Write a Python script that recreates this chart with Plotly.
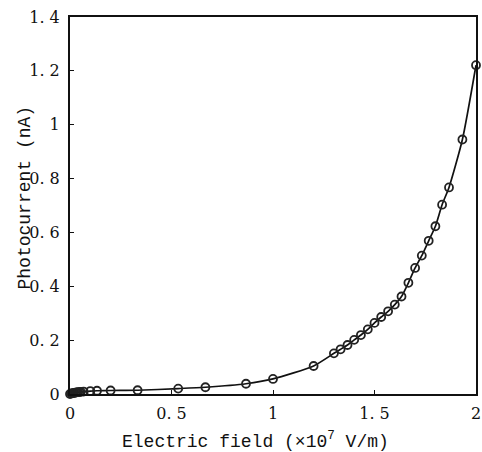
import plotly.graph_objects as go

field = [0.0, 0.007, 0.013, 0.02, 0.027, 0.033, 0.04, 0.047, 0.053, 0.067,
         0.1, 0.133, 0.2, 0.333, 0.533, 0.667, 0.867, 1.0,
         1.2, 1.3, 1.333, 1.367, 1.4, 1.433, 1.467, 1.5, 1.533, 1.567,
         1.6, 1.633, 1.667, 1.7, 1.733, 1.767, 1.8, 1.833, 1.867, 1.933, 2.0]
current = [0.0, 0.002, 0.003, 0.004, 0.005, 0.006, 0.007, 0.007, 0.008, 0.009,
           0.011, 0.012, 0.013, 0.014, 0.02, 0.025, 0.038, 0.056,
           0.104, 0.151, 0.166, 0.182, 0.201, 0.219, 0.24, 0.264, 0.286, 0.307,
           0.332, 0.362, 0.413, 0.468, 0.514, 0.569, 0.623, 0.703, 0.767, 0.945, 1.221]

x_ticks = [0, 0.5, 1, 1.5, 2]
x_tick_text = ["0", "0. 5", "1", "1. 5", "2"]
y_ticks = [0, 0.2, 0.4, 0.6, 0.8, 1.0, 1.2, 1.4]
y_tick_text = ["0", "0. 2", "0. 4", "0. 6", "0. 8", "1", "1. 2", "1. 4"]

x_title = "Electric field (×10<sup>7</sup> V/m)"
y_title = "Photocurrent (nA)"

tick_font = "DejaVu Serif, Liberation Serif, serif"
title_font = "Liberation Mono, DejaVu Sans Mono, monospace"

fig = go.Figure()
fig.add_trace(go.Scatter(
    x=field, y=current, mode="lines+markers",
    line=dict(color="#111111", width=1.7, shape="spline", smoothing=0.6),
    marker=dict(symbol="circle-open", size=8, color="#222222", line=dict(width=1.8)),
    showlegend=False, cliponaxis=False,
))

axis_common = dict(
    showline=True, linecolor="#111111", linewidth=2, mirror=True,
    ticks="inside", ticklen=4, tickcolor="#111111", tickwidth=1,
    showgrid=False, zeroline=False, automargin=False,
    ticklabeloverflow="allow",
    tickfont=dict(family=tick_font, size=16, color="#111111"),
)

fig.update_layout(
    width=482, height=452,
    margin=dict(l=70, r=6, t=17, b=58),
    paper_bgcolor="white", plot_bgcolor="white",
    xaxis=dict(range=[0, 2], tickvals=x_ticks, ticktext=x_tick_text,
               ticklabelstandoff=4, **axis_common),
    yaxis=dict(range=[0, 1.4], tickvals=y_ticks, ticktext=y_tick_text,
               ticklabelstandoff=5, **axis_common),
    annotations=[
        dict(text=x_title, xref="paper", yref="paper", x=0.5, y=0,
             xanchor="center", yanchor="middle", xshift=-18, yshift=-46,
             showarrow=False,
             font=dict(family=title_font, size=18, color="#111111")),
        dict(text=y_title, xref="paper", yref="paper", x=0, y=0.5,
             xanchor="center", yanchor="middle", xshift=-46, yshift=8,
             textangle=-90, showarrow=False,
             font=dict(family=title_font, size=18, color="#111111")),
    ],
)

fig.write_html(
    "out.html",
    config={"displayModeBar": False},
    post_script="document.body.style.margin='0';document.body.style.overflow='hidden';",
)
